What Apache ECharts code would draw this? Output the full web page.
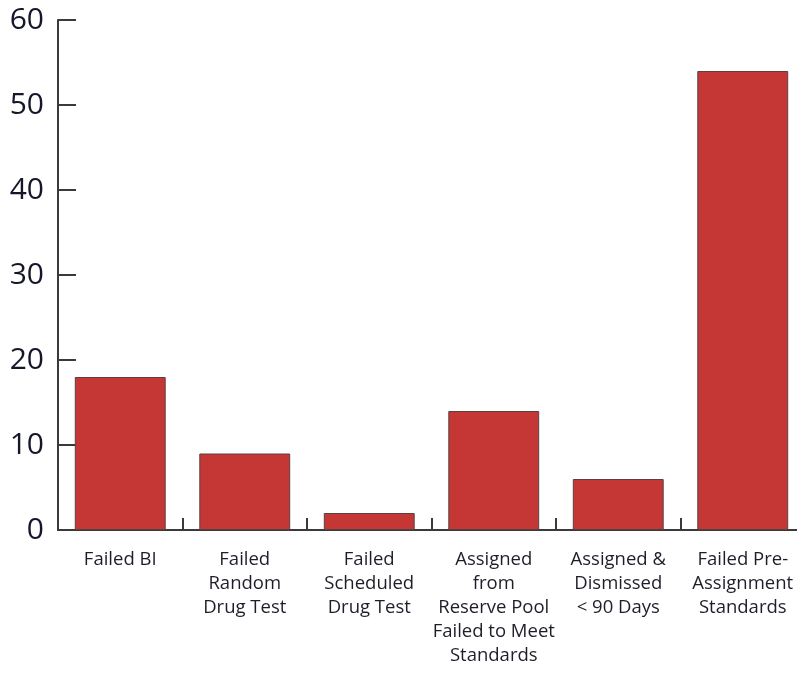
<!DOCTYPE html>
<html lang="en">
<head>
  <meta charset="UTF-8">
  <title>Bar chart</title>
  <script src="https://cdn.jsdelivr.net/npm/echarts@6/dist/echarts.min.js"></script>
</head>
<body style="margin:0;background:#fff">
  <div id="main" style="width:797px;height:675px;"></div>
  <script type="text/javascript">
    // categories and values
    const categories = [
      'Failed BI',
      'Failed\nRandom\nDrug Test',
      'Failed\nScheduled\nDrug Test',
      'Assigned\nfrom\nReserve Pool\nFailed to Meet\nStandards',
      'Assigned &\nDismissed\n< 90 Days',
      'Failed Pre-\nAssignment\nStandards'
    ]
    const values = [18, 9, 2, 14, 6, 54]

    const myChart = echarts.init(document.getElementById('main'))

    myChart.setOption({
      animation: false,
      // plot runs a little past the right edge, like the original
      grid: { left: 58, width: 747, top: 20, bottom: 145, containLabel: false, outerBoundsMode: 'none' },
      xAxis: {
        type: 'category',
        data: categories,
        axisLine: { lineStyle: { color: '#3a3a3a', width: 2 } },
        axisTick: { show: true, inside: true, length: 12, lineStyle: { color: '#3a3a3a', width: 2 } },
        axisLabel: {
          interval: 0,
          margin: 18,
          color: '#1e1e2a',
          fontFamily: 'Open Sans',
          fontSize: 18.5,
          lineHeight: 24,
          align: 'center'
        }
      },
      yAxis: {
        type: 'value',
        min: 0,
        max: 60,
        interval: 10,
        splitLine: { show: false },
        axisLine: { show: true, lineStyle: { color: '#3a3a3a', width: 2 } },
        axisTick: { show: true, inside: true, length: 18, lineStyle: { color: '#3a3a3a', width: 2 } },
        axisLabel: {
          margin: 14,
          color: '#16162a',
          fontFamily: 'Open Sans',
          fontWeight: 500,
          fontSize: 30,
          padding: [4, 0, 0, 0]
        }
      },
      series: [{
        type: 'bar',
        data: values,
        barCategoryGap: '27%',
        itemStyle: {
          color: '#c43734',
          borderColor: '#5b4040',
          borderWidth: 1
        }
      }]
    })
  </script>
</body>
</html>
